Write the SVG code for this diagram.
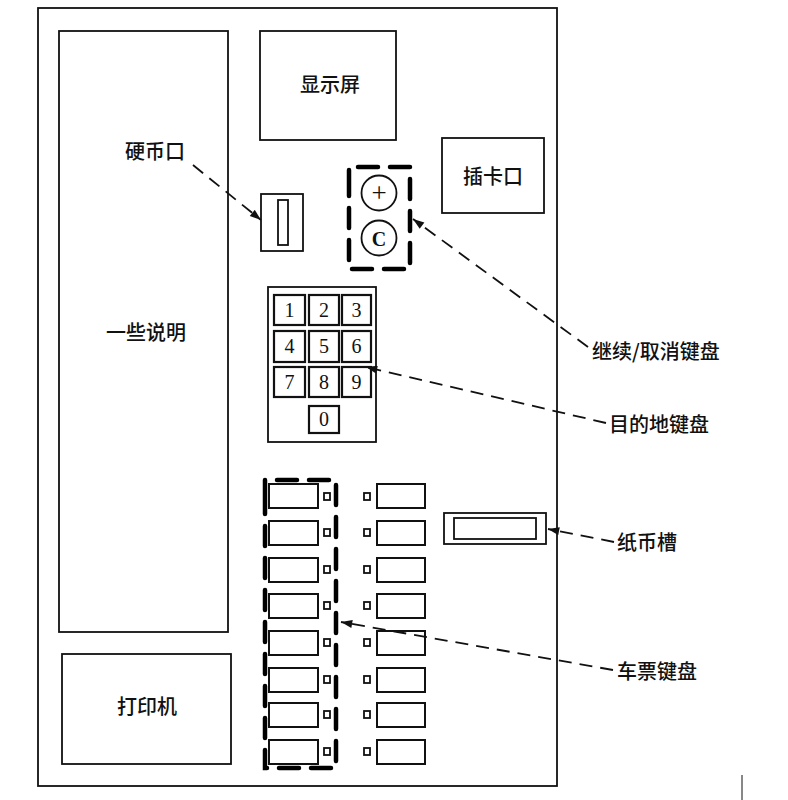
<svg xmlns="http://www.w3.org/2000/svg" width="788" height="800" viewBox="0 0 788 800">
<style>
.box{fill:none;stroke:#111;stroke-width:1.8}
.key{fill:#fff;stroke:#111;stroke-width:2.2}
.btn{fill:#fff;stroke:#111;stroke-width:2}
.sq{fill:#fff;stroke:#111;stroke-width:1.8}
.dbox{fill:none;stroke:#000;stroke-width:4.5;stroke-dasharray:20 12;stroke-linecap:round}
.conn{fill:none;stroke:#111;stroke-width:1.8;stroke-dasharray:13 8}
.lbl{font-family:"Noto Sans CJK SC","Noto Sans",sans-serif;font-size:20px;font-weight:500;fill:#111}
.dig{font-family:"Liberation Serif",serif;font-size:20px;fill:#111;text-anchor:middle}
</style>
<defs>
<marker id="ah" viewBox="0 0 14 10" refX="14" refY="5" markerWidth="14" markerHeight="8" markerUnits="userSpaceOnUse" orient="auto">
<path d="M0,0 L14,5 L0,10 z" fill="#111"/>
</marker>
</defs>
<rect width="788" height="800" fill="#fff"/>
<g id="housing"><rect class="box" x="38" y="8" width="519" height="778"/></g>
<g id="info"><rect class="box" x="59" y="31" width="169" height="601"/><text class="lbl" x="146" y="340" text-anchor="middle">一些说明</text></g>
<g id="display"><rect class="box" x="260" y="31" width="136" height="109"/><text class="lbl" x="330" y="92" text-anchor="middle">显示屏</text></g>
<g id="card"><rect class="box" x="442" y="138" width="102" height="75"/><text class="lbl" x="493" y="184" text-anchor="middle">插卡口</text></g>
<g id="coin"><rect class="box" x="261" y="194" width="42" height="57"/><rect class="box" x="278" y="200" width="10" height="45"/></g>
<g id="coin-label"><text class="lbl" x="155" y="159" text-anchor="middle">硬币口</text></g>
<g id="continue-cancel">
<path class="dbox" d="M349,190 V167 H410 V269 H349 V190"/>
<circle cx="379" cy="193" r="17.5" fill="none" stroke="#111" stroke-width="1.8"/>
<text class="dig" x="379" y="202" style="font-size:27px">+</text>
<circle cx="379" cy="238" r="17.5" fill="none" stroke="#111" stroke-width="1.8"/>
<text class="dig" x="379" y="245.5" style="font-weight:bold">C</text>
</g>
<g id="dest-keypad">
<rect class="box" x="268" y="287" width="108" height="155"/>
<rect class="key" x="274" y="295" width="31" height="30"/><text class="dig" x="289.5" y="317">1</text>
<rect class="key" x="309" y="295" width="30" height="30"/><text class="dig" x="324" y="317">2</text>
<rect class="key" x="342" y="295" width="29" height="30"/><text class="dig" x="356.5" y="317">3</text>
<rect class="key" x="274" y="331" width="31" height="31"/><text class="dig" x="289.5" y="353">4</text>
<rect class="key" x="309" y="331" width="30" height="31"/><text class="dig" x="324" y="353">5</text>
<rect class="key" x="342" y="331" width="29" height="31"/><text class="dig" x="356.5" y="353">6</text>
<rect class="key" x="274" y="367" width="31" height="30"/><text class="dig" x="289.5" y="389">7</text>
<rect class="key" x="309" y="367" width="30" height="30"/><text class="dig" x="324" y="389">8</text>
<rect class="key" x="342" y="367" width="29" height="30"/><text class="dig" x="356.5" y="389">9</text>
<rect class="key" x="309" y="406" width="30" height="27"/><text class="dig" x="324" y="426">0</text>
</g>
<g id="ticket-keypad">
<path class="dbox" d="M265,500 V480 H336 V768 H265 V500"/>
<rect class="btn" x="269" y="484" width="49" height="24"/><rect class="sq" x="324" y="493" width="6" height="7"/>
<rect class="btn" x="269" y="521" width="49" height="24"/><rect class="sq" x="324" y="529" width="6" height="7"/>
<rect class="btn" x="269" y="558" width="49" height="24"/><rect class="sq" x="324" y="566" width="6" height="7"/>
<rect class="btn" x="269" y="594" width="49" height="24"/><rect class="sq" x="324" y="602" width="6" height="7"/>
<rect class="btn" x="269" y="631" width="49" height="24"/><rect class="sq" x="324" y="639" width="6" height="7"/>
<rect class="btn" x="269" y="668" width="49" height="24"/><rect class="sq" x="324" y="676" width="6" height="7"/>
<rect class="btn" x="269" y="703" width="49" height="24"/><rect class="sq" x="324" y="711" width="6" height="7"/>
<rect class="btn" x="269" y="740" width="49" height="24"/><rect class="sq" x="324" y="748" width="6" height="7"/>
<rect class="sq" x="364" y="493" width="6" height="7"/><rect class="btn" x="377" y="484" width="48" height="24"/>
<rect class="sq" x="364" y="529" width="6" height="7"/><rect class="btn" x="377" y="521" width="48" height="24"/>
<rect class="sq" x="364" y="566" width="6" height="7"/><rect class="btn" x="377" y="558" width="48" height="24"/>
<rect class="sq" x="364" y="602" width="6" height="7"/><rect class="btn" x="377" y="594" width="48" height="24"/>
<rect class="sq" x="364" y="639" width="6" height="7"/><rect class="btn" x="377" y="631" width="48" height="24"/>
<rect class="sq" x="364" y="676" width="6" height="7"/><rect class="btn" x="377" y="668" width="48" height="24"/>
<rect class="sq" x="364" y="711" width="6" height="7"/><rect class="btn" x="377" y="703" width="48" height="24"/>
<rect class="sq" x="364" y="748" width="6" height="7"/><rect class="btn" x="377" y="740" width="48" height="24"/>
</g>
<g id="paper-slot"><rect class="box" x="444" y="513" width="102" height="31"/><rect class="box" x="454" y="518" width="82" height="21"/></g>
<g id="printer"><rect class="box" x="62" y="654" width="169" height="110"/><text class="lbl" x="147" y="714" text-anchor="middle">打印机</text></g>
<g id="labels">
<text class="lbl" x="592" y="359">继续/取消键盘</text>
<text class="lbl" x="609" y="432">目的地键盘</text>
<text class="lbl" x="617" y="550">纸币槽</text>
<text class="lbl" x="617" y="679">车票键盘</text>
</g>
<g id="connectors">
<line class="conn" x1="193" y1="165" x2="261" y2="220" marker-end="url(#ah)"/>
<line class="conn" x1="588" y1="347" x2="413" y2="219" marker-end="url(#ah)"/>
<line class="conn" x1="606" y1="423" x2="366" y2="367" marker-end="url(#ah)"/>
<line class="conn" x1="614" y1="542" x2="548" y2="529" marker-end="url(#ah)"/>
<line class="conn" x1="613" y1="670" x2="341" y2="622" marker-end="url(#ah)"/>
</g>
<line x1="742" y1="775" x2="742" y2="800" stroke="#111" stroke-width="1"/>
</svg>
